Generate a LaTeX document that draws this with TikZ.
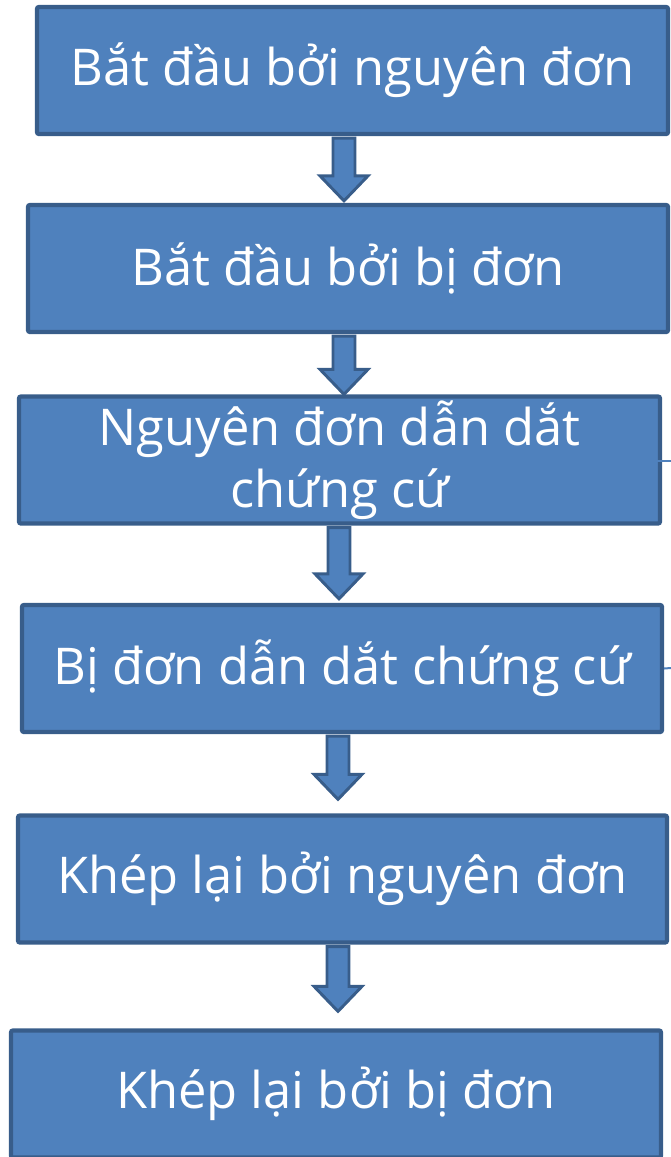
\documentclass[tikz,border=0pt]{standalone}
\usepackage{fontspec}
\setmainfont{Open Sans}
\usetikzlibrary{calc}
\definecolor{boxfill}{HTML}{4F81BD}
\definecolor{boxline}{HTML}{385D8A}

\begin{document}
\begin{tikzpicture}[x=0.75pt,y=-0.75pt,
    stage/.style={draw=boxline,fill=boxfill,line width=3.2pt,rounded corners=1.5pt,
        text=white,align=center,font=\fontsize{38}{46.5}\selectfont,
        minimum height=95.25pt,inner sep=0pt},
    blockarrow/.style={draw=boxline,fill=boxfill,line width=2.2pt,line join=miter},
    link/.style={draw=boxfill,line width=1.5pt}]
    \useasboundingbox (0,0) rectangle (671,1157);
    \node[stage,minimum width=473.25pt] (b1) at (352.5,70.5) {Bắt đầu bởi nguyên đơn};
    \node[stage,minimum width=480pt] (b2) at (348,268.5) {Bắt đầu bởi bị đơn};
    \node[stage,minimum width=480.75pt] (b3) at (339.5,460) {Nguyên đơn dẫn dắt\\chứng cứ};
    \node[stage,minimum width=480pt] (b4) at (342,668.5) {Bị đơn dẫn dắt chứng cứ};
    \node[stage,minimum width=486.75pt] (b5) at (342.5,879) {Khép lại bởi nguyên đơn};
    \node[stage,minimum width=487.5pt] (b6) at (336,1094) {Khép lại bởi bị đơn};
    \coordinate (o3) at (671,461);
    \coordinate (o4) at (671,668);
    \draw[link] (b3.east) ++(-18,1) -- (o3);
    \draw[link] (b4.east) -- (o4);
    \foreach \from/\to/\ax/\gap in {b1/b2/344/2,b2/b3/344/0,b3/b4/339/4,b4/b5/338/14,b5/b6/338/17} {
        \coordinate (xa) at (\ax,0);
        \path (\from.south) ++(0,2) coordinate (top);
        \path (\to.north) ++(0,-\gap) coordinate (tip);
        \coordinate (t) at (top -| xa);
        \coordinate (h) at (tip -| xa);
        \draw[blockarrow] ($(t)+(-11,0)$) -- ($(h)+(-11,-25)$) -- ($(h)+(-24,-25)$) -- (h)
            -- ($(h)+(24,-25)$) -- ($(h)+(11,-25)$) -- ($(t)+(11,0)$) -- cycle;
    }
\end{tikzpicture}
\end{document}
